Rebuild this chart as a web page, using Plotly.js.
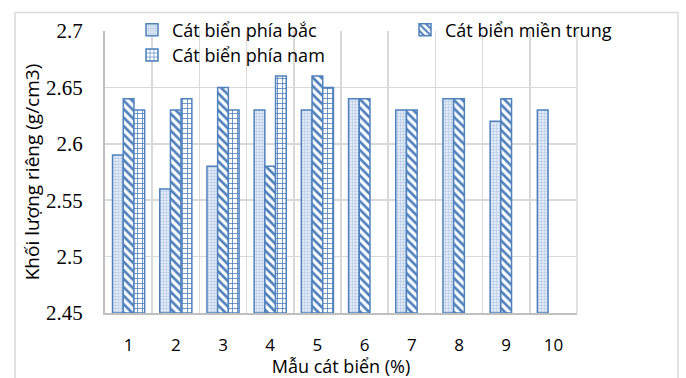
<!DOCTYPE html>
<html>
<head>
<meta charset="utf-8">
<script src="https://cdn.plot.ly/plotly-3.0.1.min.js"></script>
<style>html,body{margin:0;padding:0;background:#fff;}#chart{width:686px;height:378px;}</style>
</head>
<body>
<div id="chart"></div>
<script>
var categories = ["1", "2", "3", "4", "5", "6", "7", "8", "9", "10"];
var seriesNames = ["Cát biển phía bắc", "Cát biển miền trung", "Cát biển phía nam"];
var bac   = [2.59, 2.56, 2.58, 2.63, 2.63, 2.64, 2.63, 2.64, 2.62, 2.63];
var trung = [2.64, 2.63, 2.65, 2.58, 2.66, 2.64, 2.63, 2.64, 2.64, null];
var nam   = [2.63, 2.64, 2.63, 2.66, 2.65, null, null, null, null, null];
var yTickVals = [2.45, 2.5, 2.55, 2.6, 2.65, 2.7];
var yTickText = ["2.45", "2.5", "2.55", "2.6", "2.65", "2.7"];
var xTitle = "Mẫu cát biển (%)";
var yTitle = "Khối lượng riêng (g/cm3)";

var edge = "#4f81bd";
var sans = "'Open Sans', Lato, sans-serif";
var base = 2.45;

function trace(name, vals, pattern, legend) {
  return {
    type: "bar", name: name, x: categories, y: vals.map(function(v){return v === null ? null : v - base;}),
    base: base, legend: legend,
    marker: {color: "#ffffff", line: {color: edge, width: 1.5}, pattern: pattern},
    hoverinfo: "skip"
  };
}

var data = [
  trace(seriesNames[0], bac, {shape: ".", fgcolor: "#b7cbe8", bgcolor: "#f0f5fb", size: 3, solidity: 0.5}, "legend"),
  trace(seriesNames[1], trung, {shape: "\\", fgcolor: edge, bgcolor: "#ffffff", size: 6, solidity: 0.45}, "legend3"),
  trace(seriesNames[2], nam, {shape: "+", fgcolor: edge, bgcolor: "#ffffff", size: 5, solidity: 0.3}, "legend2")
];

var legFont = {family: sans, size: 18, color: "#000"};
function leg(xpx, ytop) {
  return {orientation: "h", x: (xpx - 105) / 472, xanchor: "left", y: (313 - ytop) / 289, yanchor: "top",
    bgcolor: "rgba(0,0,0,0)", font: legFont};
}

var layout = {
  width: 686, height: 378,
  margin: {l: 105, r: 109, t: 24, b: 65},
  paper_bgcolor: "#ffffff", plot_bgcolor: "#ffffff",
  barmode: "group", bargap: 0.32, bargroupgap: 0,
  font: {family: sans, color: "#000", size: 16},
  xaxis: {
    type: "category", tickson: "boundaries", showgrid: true, gridcolor: "#d9d9d9", gridwidth: 1.5,
    ticks: "", showline: true, linecolor: "#bfbfbf", linewidth: 2, mirror: false,
    tickfont: {family: sans, size: 17}, ticklabelstandoff: 16,
    title: {text: xTitle, font: {family: sans, size: 18}, standoff: 0}
  },
  yaxis: {
    range: [2.45, 2.7], tickvals: yTickVals, ticktext: yTickText,
    showgrid: true, gridcolor: "#d9d9d9", gridwidth: 1.5, zeroline: false,
    showline: true, linecolor: "#bfbfbf", linewidth: 2, ticks: "",
    tickfont: {family: "'Liberation Serif', serif", size: 21}, ticklabelstandoff: 16,
    title: {text: yTitle, font: {family: sans, size: 19}, standoff: 1}
  },
  legend: leg(132, 4),
  legend3: leg(405, 4),
  legend2: leg(132, 30),
  shapes: [
    {type: "rect", xref: "paper", yref: "paper", x0: (15-105)/472, x1: (678-105)/472, y0: (313-390)/289, y1: (313-5)/289,
     line: {color: "#d9d9d9", width: 1.5}, fillcolor: "rgba(0,0,0,0)", layer: "below"},
    {type: "line", xref: "paper", yref: "paper", x0: 1, x1: 1, y0: 0, y1: 1, line: {color: "#d9d9d9", width: 1.5}}
  ],
  showlegend: true
};

Plotly.newPlot("chart", data, layout, {displayModeBar: false, staticPlot: true});
</script>
</body>
</html>
